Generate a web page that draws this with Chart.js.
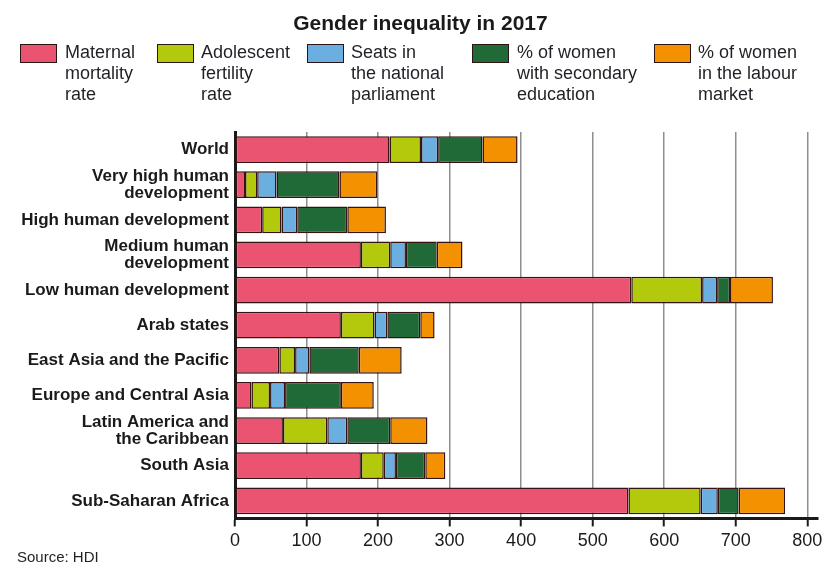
<!DOCTYPE html>
<html>
<head>
<meta charset="utf-8">
<script src="https://cdn.jsdelivr.net/npm/chart.js@4/dist/chart.umd.min.js"></script>
<style>
  html, body { margin:0; padding:0; background:#fff; }
  #wrap { position:relative; width:838px; height:577px; font-family:"Liberation Sans", Arial, sans-serif; }
  canvas { position:absolute; left:0; top:0; }
  #title { position:absolute; left:0; width:841px; top:10px; text-align:center; font-size:21px; line-height:26px; font-weight:bold; color:#1a1a1a; }
  .lg { position:absolute; top:42px; font-size:18px; line-height:21px; color:#221f26; }
  .box { position:absolute; top:44px; width:35px; height:17px; border:1px solid #2a1414; }
  #src { position:absolute; left:17px; top:548px; font-size:15px; color:#221f26; }
</style>
</head>
<body>
<div id="wrap">
  <canvas id="c" width="838" height="577"></canvas>
  <div id="title">Gender inequality in 2017</div>
  <div id="legend"></div>
  <div id="src">Source: HDI</div>
</div>
<script>
const categories = [
  ["World"],
  ["Very high human", "development"],
  ["High human development"],
  ["Medium human", "development"],
  ["Low human development"],
  ["Arab states"],
  ["East Asia and the Pacific"],
  ["Europe and Central Asia"],
  ["Latin America and", "the Caribbean"],
  ["South Asia"],
  ["Sub-Saharan Africa"]
];
const seriesNames = [
  ["Maternal", "mortality", "rate"],
  ["Adolescent", "fertility", "rate"],
  ["Seats in", "the national", "parliament"],
  ["% of women", "with secondary", "education"],
  ["% of women", "in the labour", "market"]
];
const maternal   = [216, 14, 38, 176, 554, 148, 62, 23, 67, 176, 550];
const adolescent = [44, 17, 27, 41, 99, 47, 22, 26, 62, 32, 101];
const seats      = [24, 27, 22, 22, 21, 18, 20, 21, 28, 17, 24];
const secondary  = [62, 88, 70, 43, 18, 46, 69, 78, 60, 41, 29];
const labour     = [49, 53, 54, 36, 60, 20, 60, 46, 52, 28, 65];
const xTicks = [0, 100, 200, 300, 400, 500, 600, 700, 800];

const colors = ['#EA5471', '#B3C90C', '#6BAEE0', '#1F6A36', '#F39100'];
const values = [maternal, adolescent, seats, secondary, labour];

// HTML legend
const legendPos = [{b:20, t:65}, {b:157, t:201}, {b:307, t:351}, {b:472, t:517}, {b:654, t:698}];
const lg = document.getElementById('legend');
seriesNames.forEach((name, i) => {
  const box = document.createElement('div');
  box.className = 'box';
  box.style.left = legendPos[i].b + 'px';
  box.style.background = colors[i];
  lg.appendChild(box);
  const t = document.createElement('div');
  t.className = 'lg';
  t.style.left = legendPos[i].t + 'px';
  t.innerHTML = name.join('<br>');
  lg.appendChild(t);
});

new Chart(document.getElementById('c'), {
  type: 'bar',
  data: {
    labels: categories,
    datasets: values.map((v, i) => ({
      label: seriesNames[i].join(' '),
      data: v,
      backgroundColor: colors[i],
      borderColor: '#351313',
      borderWidth: 1.5,
      borderSkipped: false,
      barPercentage: 0.76,
      categoryPercentage: 1.0
    }))
  },
  options: {
    indexAxis: 'y',
    responsive: false,
    animation: false,
    devicePixelRatio: 1,
    layout: { padding: { left: 0, right: 20, top: 132, bottom: 21 } },
    plugins: {
      legend: { display: false },
      tooltip: { enabled: false },
      title: { display: false }
    },
    scales: {
      x: {
        type: 'linear',
        stacked: true,
        min: 0,
        max: 815,
        afterBuildTicks: (axis) => {
          axis.ticks = xTicks.map(v => ({ value: v }));
        },
        grid: {
          color: '#8e8e8e',
          lineWidth: 1.5,
          tickColor: '#1a1a1a',
          tickWidth: 2,
          tickLength: 8
        },
        border: { display: true, color: '#1a1a1a', width: 3 },
        ticks: {
          color: '#1a1a1a',
          padding: 4,
          font: { family: 'Liberation Sans', size: 18 }
        }
      },
      y: {
        type: 'category',
        stacked: true,
        afterFit: (scale) => { scale.width = 235; },
        grid: { display: false, drawTicks: false },
        border: { display: true, color: '#1a1a1a', width: 3 },
        ticks: {
          autoSkip: false,
          color: '#1a1a1a',
          padding: 6,
          font: { family: 'Liberation Sans', size: 17, weight: 'bold', lineHeight: 0.98 }
        }
      }
    }
  }
});
</script>
</body>
</html>
